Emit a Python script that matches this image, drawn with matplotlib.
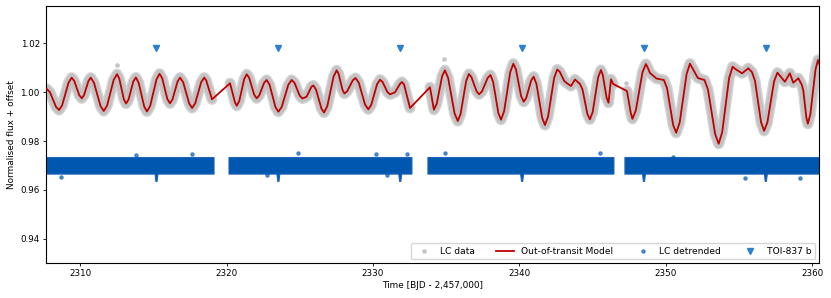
import numpy as np
import matplotlib
matplotlib.use("Agg")
import matplotlib.pyplot as plt

# out-of-transit model (gaps are bridged by the line)
model_t = [2307.73, 2307.94, 2308.36, 2308.57, 2308.78, 2309.22, 2309.43,
           2309.60, 2309.95, 2310.12, 2310.27, 2310.58, 2310.73, 2310.95,
           2311.40, 2311.62, 2311.85, 2312.30, 2312.53, 2312.68, 2312.99,
           2313.14, 2313.31, 2313.64, 2313.81, 2314.00, 2314.38, 2314.57,
           2314.79, 2315.22, 2315.43, 2315.61, 2315.96, 2316.14, 2316.31,
           2316.66, 2316.83, 2317.04, 2317.45, 2317.65, 2317.86, 2318.27,
           2318.48, 2318.62, 2319.01,
           2320.24, 2320.58, 2320.70, 2320.87, 2321.21, 2321.38, 2321.55,
           2321.89, 2322.06, 2322.23, 2322.57, 2322.74, 2322.94, 2323.34,
           2323.54, 2323.77, 2324.22, 2324.45, 2324.64, 2325.00, 2325.19,
           2325.47, 2325.80, 2325.93, 2326.11, 2326.48, 2326.66, 2326.88,
           2327.31, 2327.52, 2327.65, 2327.92, 2328.05, 2328.24, 2328.62,
           2328.81, 2329.03, 2329.46, 2329.68, 2329.88, 2330.28, 2330.48,
           2330.65, 2330.99, 2331.16, 2331.50, 2331.86, 2331.98, 2332.12,
           2332.53,
           2333.89, 2334.16, 2334.35, 2334.72, 2334.91, 2335.13, 2335.57,
           2335.79, 2335.98, 2336.36, 2336.55, 2336.72, 2337.07, 2337.24,
           2337.44, 2337.83, 2338.02, 2338.20, 2338.56, 2338.74, 2338.95,
           2339.37, 2339.58, 2339.76, 2340.11, 2340.29, 2340.46, 2340.80,
           2340.97, 2341.16, 2341.55, 2341.74, 2341.95, 2342.37, 2342.58,
           2342.74, 2343.06, 2343.22, 2343.52, 2343.79, 2344.13, 2344.30,
           2344.64, 2344.81, 2345.00, 2345.37, 2345.56, 2345.69, 2345.95,
           2346.08, 2346.25, 2346.40,
           2347.34, 2347.60, 2347.71, 2347.94, 2348.40, 2348.63, 2348.75,
           2348.91, 2349.35, 2349.86, 2350.07, 2350.49, 2350.70, 2350.94,
           2351.41, 2351.64, 2351.80, 2352.18, 2352.63, 2352.87, 2353.36,
           2353.60, 2353.84, 2354.31, 2354.55, 2354.75, 2355.20, 2355.62,
           2355.87, 2356.08, 2356.49, 2356.70, 2356.93, 2357.38, 2357.61,
           2358.12, 2358.46, 2358.69, 2359.04, 2359.28, 2359.38, 2359.59,
           2359.69, 2359.86, 2360.21, 2360.38, 2360.52]
model_f = [1.00140, 1.00010, 0.99405, 0.99275, 0.99474, 1.00401, 1.00600,
           1.00473, 0.99881, 0.99754, 0.99881, 1.00473, 1.00600, 1.00395,
           0.99439, 0.99234, 0.99460, 1.00516, 1.00742, 1.00562, 0.99721,
           0.99541, 0.99701, 1.00447, 1.00607, 1.00398, 0.99422, 0.99213,
           0.99445, 1.00526, 1.00758, 1.00577, 0.99730, 0.99549, 0.99707,
           1.00442, 1.00600, 1.00414, 0.99543, 0.99357, 0.99543, 1.00414,
           1.00600, 1.00480, 0.99713,
           1.00369, 0.99589, 0.99451, 0.99644, 1.00545, 1.00738, 1.00590,
           0.99902, 0.99754, 0.99867, 1.00392, 1.00504, 1.00309, 0.99400,
           0.99205, 0.99400, 1.00309, 1.00504, 1.00390, 0.99860, 0.99746,
           0.99820, 1.00230, 1.00279, 1.00113, 0.99338, 0.99172, 0.99432,
           1.00642, 1.00902, 1.00759, 1.00094, 0.99951, 1.00046, 1.00491,
           1.00586, 1.00394, 0.99495, 0.99303, 0.99485, 1.00334, 1.00516,
           1.00426, 1.00008, 0.99918, 1.00000, 1.00359, 1.00422, 1.00320,
           0.99357,
           1.00205, 0.99287, 0.99529, 1.00660, 1.00902, 1.00590, 0.99136,
           0.98824, 0.99113, 1.00461, 1.00750, 1.00625, 1.00043, 0.99918,
           1.00037, 1.00590, 1.00709, 1.00434, 0.99152, 0.98877, 0.99221,
           1.00828, 1.01172, 1.00938, 0.99849, 0.99615, 0.99769, 1.00485,
           1.00639, 1.00342, 0.98957, 0.98660, 0.99001, 1.00593, 1.00934,
           1.00851, 1.00464, 1.00381, 1.00258, 1.00525, 1.00340, 1.00123,
           0.99110, 0.98893, 0.99196, 1.00611, 1.00914, 1.00713, 0.99775,
           0.99574, 1.00533, 1.00340,
           1.00053, 0.99150, 0.98914, 0.99251, 1.00823, 1.01160, 1.01020,
           1.00791, 1.00566, 1.00504, 1.00180, 0.98668, 0.98344, 0.98768,
           1.00748, 1.01172, 1.01000, 1.00586, 1.00504, 1.00112, 0.98285,
           0.97893, 0.98366, 1.00576, 1.01049, 1.00950, 1.00779, 1.00984,
           1.00832, 1.00470, 0.98784, 0.98422, 0.98779, 1.00446, 1.00803,
           1.00434, 1.00779, 1.00393, 1.00574, 1.00299, 1.00060, 0.98950,
           0.98713, 0.99105, 1.00932, 1.01324, 1.01080]

# observing segments
seg_start = [2307.60, 2320.17, 2333.75, 2347.20]
seg_end = [2319.15, 2332.66, 2346.45, 2360.60]

# a few stray LC data points
lc_out_t = [2312.50, 2334.87, 2347.30]
lc_out_f = [1.0112, 1.0136, 1.0037]

# detrended light curve: band envelope (nan = gap)
det_t = [2307.60, 2315.12, 2315.18, 2315.26, 2315.32, 2319.15, np.nan,
         2320.17, 2323.44, 2323.50, 2323.58, 2323.64, 2331.76, 2331.82,
         2331.90, 2331.96, 2332.66, np.nan,
         2333.75, 2340.08, 2340.14, 2340.22, 2340.28, 2346.45, np.nan,
         2347.20, 2348.40, 2348.46, 2348.54, 2348.60, 2356.72, 2356.78,
         2356.86, 2356.92, 2360.60]
det_lo = [0.9665, 0.9665, 0.9635, 0.9635, 0.9665, 0.9665, np.nan,
          0.9665, 0.9665, 0.9635, 0.9635, 0.9665, 0.9665, 0.9635,
          0.9635, 0.9665, 0.9665, np.nan,
          0.9665, 0.9665, 0.9635, 0.9635, 0.9665, 0.9665, np.nan,
          0.9665, 0.9665, 0.9635, 0.9635, 0.9665, 0.9665, 0.9635,
          0.9635, 0.9665, 0.9665]
det_hi = [0.9733, 0.9733, 0.9733, 0.9733, 0.9733, 0.9733, np.nan,
          0.9733, 0.9733, 0.9733, 0.9733, 0.9733, 0.9733, 0.9733,
          0.9733, 0.9733, 0.9733, np.nan,
          0.9733, 0.9733, 0.9733, 0.9733, 0.9733, 0.9733, np.nan,
          0.9733, 0.9733, 0.9733, 0.9733, 0.9733, 0.9733, 0.9733,
          0.9733, 0.9733, 0.9733]

# stray detrended points
det_out_t = [2308.70, 2313.80, 2317.62, 2322.74, 2324.90, 2330.20, 2330.93,
             2332.34, 2334.91, 2345.49, 2350.50, 2355.39, 2359.15]
det_out_f = [0.9654, 0.9743, 0.9747, 0.9661, 0.9750, 0.9747, 0.9661,
             0.9747, 0.9750, 0.9750, 0.9736, 0.9648, 0.9648]

# transit times of TOI-837 b
transits = [2315.22, 2323.54, 2331.86, 2340.18, 2348.50, 2356.82]
marker_level = 1.0183


def main():
    plt.rcParams['font.family'] = "DejaVu Sans"
    plt.rcParams['font.size'] = 6.3

    fig = plt.figure(figsize=(8.31, 2.98), dpi=100)
    ax = fig.add_axes([0.0554, 0.117, 0.930, 0.863])

    t = np.array(model_t)
    f = np.array(model_f)

    # LC data: grey band in each segment
    for s, e in zip(seg_start, seg_end):
        m = (t >= s) & (t <= e)
        ax.plot(t[m], f[m], color="#d4d4d4", lw=8.0, solid_capstyle="round",
                solid_joinstyle="round", zorder=1)
        ax.plot(t[m], f[m], color="#c2c2c2", lw=6.0, solid_capstyle="round",
                solid_joinstyle="round", zorder=1)
    ax.plot(lc_out_t, lc_out_f, ls="none", marker="o", ms=2.3,
            color="#c6c6c6", label="LC data", zorder=1)

    ax.plot(t, f, color="#c00000", lw=1.3, label="Out-of-transit Model",
            solid_joinstyle="round", zorder=3)

    ax.fill_between(det_t, det_lo, det_hi, color="#0057b0", lw=0.8,
                    edgecolor="#1f66b8", zorder=2)
    ax.plot(det_out_t, det_out_f, ls="none", marker="o", ms=2.3,
            color="#0057b0", alpha=0.6, label="LC detrended", zorder=2)

    ax.plot(transits, [marker_level] * len(transits), ls="none", marker="v",
            ms=5, color="#2a7fd0", label="TOI-837 b", zorder=4)

    ax.set_xlim(2307.68, 2360.44)
    ax.set_ylim(0.93004, 1.03537)
    ax.set_xticks([2310, 2320, 2330, 2340, 2350, 2360])
    ax.set_yticks([0.94, 0.96, 0.98, 1.00, 1.02])
    ax.tick_params(length=2.5, width=0.6, labelsize=6.3, pad=2)
    ax.set_xlabel("Time [BJD - 2,457,000]", fontsize=6.4, labelpad=2)
    ax.set_ylabel("Normalised flux + offset", fontsize=6.4, labelpad=3)

    ax.legend(loc="lower right", ncol=4, fontsize=6.6, frameon=True,
              borderaxespad=0.4, handlelength=2.0, columnspacing=2.2,
              handletextpad=0.8)

    fig.savefig("out.png", dpi=100)


if __name__ == "__main__":
    main()
